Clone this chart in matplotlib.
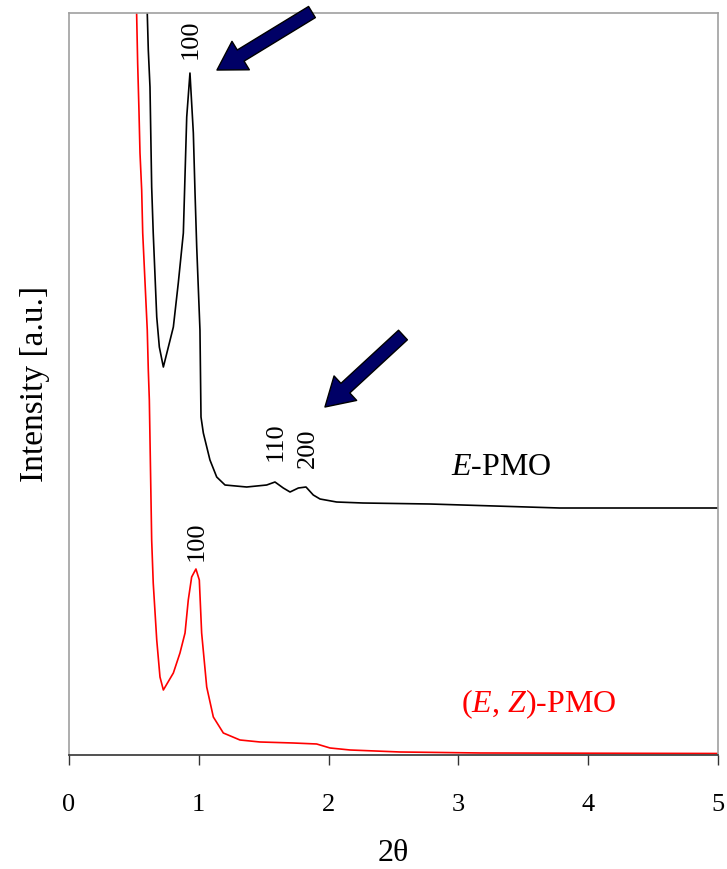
import matplotlib
matplotlib.use("Agg")
import matplotlib.pyplot as plt

# XRD patterns (2theta in degrees, intensity in a.u.)
e_2theta = [0.590, 0.603, 0.611, 0.624, 0.637, 0.649, 0.676, 0.696, 0.727, 0.804,
            0.842, 0.881, 0.907, 0.932, 0.958, 0.971, 0.984, 1.009, 1.017, 1.035,
            1.086, 1.138, 1.202, 1.369, 1.523, 1.587, 1.651, 1.703, 1.767, 1.826,
            1.882, 1.934, 2.062, 2.265, 2.781, 3.780, 5.000]
e_int = [800, 742, 705, 668, 568, 522, 438, 408, 388, 428,
         472, 522, 638, 682, 622, 562, 508, 425, 338, 322,
         295, 278, 270, 268, 270, 273, 267, 263, 267, 268,
         260, 256, 253, 252, 251, 247, 247]

ez_2theta = [0.510, 0.521, 0.529, 0.539, 0.547, 0.560, 0.568, 0.586, 0.603, 0.611,
             0.619, 0.637, 0.649, 0.676, 0.701, 0.727, 0.804, 0.855, 0.894, 0.919,
             0.945, 0.978, 1.004, 1.022, 1.061, 1.112, 1.189, 1.317, 1.471, 1.726,
             1.908, 2.011, 2.165, 2.550, 3.170, 5.000]
ez_int = [800, 742, 692, 645, 602, 565, 522, 472, 425, 385,
          355, 215, 172, 115, 78, 65, 82, 102, 122, 155,
          178, 186, 175, 122, 68, 38, 22, 15, 13, 12,
          11, 7, 5, 3, 2, 1.5]

xticks = [0, 1, 2, 3, 4, 5]

plt.rcParams['font.family'] = ['Liberation Serif', 'DejaVu Serif']
plt.rcParams['mathtext.fontset'] = 'custom'
plt.rcParams['mathtext.rm'] = 'Liberation Serif'
plt.rcParams['mathtext.it'] = 'Liberation Serif:italic'

fig = plt.figure(figsize=(7.27, 8.69), dpi=100)
ax = fig.add_axes([0.0949, 0.1312, 0.8927, 0.8538])

ax.plot(e_2theta, e_int, color='black', lw=1.2)
ax.plot(ez_2theta, ez_int, color='#ff0000', lw=1.2)

ax.set_xlim(0, 5)
ax.set_ylim(0, 742)
ax.set_xticks(xticks)
ax.set_yticks([])
ax.tick_params(axis='x', direction='out', length=7, width=1, color='#333333',
               pad=21, labelsize=19)

for side in ['top', 'left', 'right']:
    ax.spines[side].set_color('#a0a0a0')
    ax.spines[side].set_linewidth(1.2)
ax.spines['bottom'].set_color('#333333')
ax.spines['bottom'].set_linewidth(1.2)

ax.set_xlabel('2θ', fontsize=23, labelpad=17)
ax.set_ylabel('Intensity [a.u.]', fontsize=24, labelpad=14)

# peak labels
ax.text(0.94, 716, '100', rotation=90, ha='center', va='center', fontsize=19)
ax.text(1.591, 313, '110', rotation=90, ha='center', va='center', fontsize=19)
ax.text(1.837, 307, '200', rotation=90, ha='center', va='center', fontsize=19)
ax.text(0.984, 214, '100', rotation=90, ha='center', va='center', fontsize=19)

ax.text(3.328, 288, '$E$-PMO', ha='center', va='center', fontsize=23)
ax.text(3.62, 51, '($E$, $Z$)-PMO', ha='center', va='center', fontsize=23,
        color='#ff0000')

# arrows pointing at the reflections
arrow = dict(arrowstyle='simple,head_length=1.0,head_width=1.2,tail_width=0.47',
             fc='#000066', ec='black', lw=1, shrinkA=0, shrinkB=0,
             mutation_scale=20)
ax.annotate('', xy=(1.14, 685), xytext=(1.872, 743), arrowprops=arrow,
            annotation_clip=False)
ax.annotate('', xy=(1.972, 348), xytext=(2.573, 420), arrowprops=arrow,
            annotation_clip=False)

fig.savefig('out.png', dpi=100)
